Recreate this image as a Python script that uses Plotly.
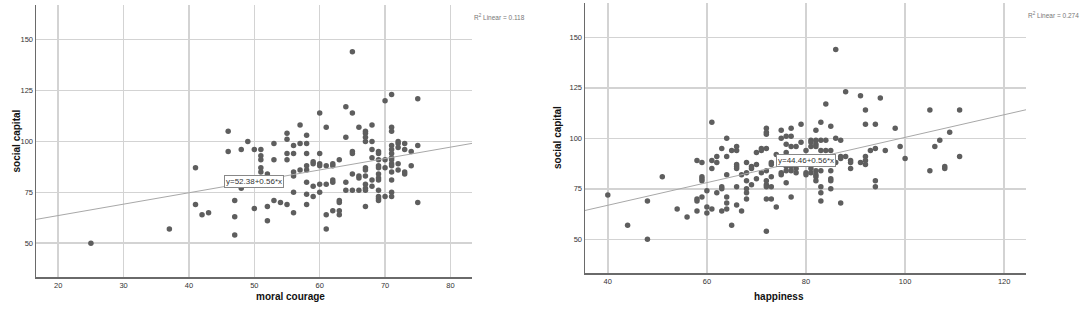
import plotly.graph_objects as go

# ---------------- data: left panel (moral courage vs social capital) ----------------
mc_x = ([25, 37, 41, 41, 42, 43, 46, 46, 47, 47, 47, 48, 48, 49, 50, 50]
        + [51] * 5 + [52] * 3 + [53] * 3 + [54] + [55] * 5 + [56] * 6 + [57] * 3
        + [58] * 8 + [59] * 4 + [60] * 6 + [61] * 5 + [62] * 5 + [63] * 5 + [64] * 4
        + [65] * 6 + [66] * 4 + [67] * 11 + [68] * 6 + [69] * 12 + [70] * 4 + [71] * 14
        + [72] * 5 + [73] * 4 + [74] * 2 + [75] * 3)
mc_y = ([50, 57, 87, 69, 64, 65, 105, 95, 71, 63, 54, 96, 77, 100, 96, 67]
        + [96, 93, 91, 87, 85]
        + [84, 68, 61]
        + [99, 91, 71]
        + [70]
        + [104, 101, 94, 91, 69]
        + [98, 94, 85, 83, 75, 65]
        + [108, 99, 86]
        + [103, 99, 94, 88, 86, 80, 74, 69]
        + [90, 89, 78, 73]
        + [114, 94, 89, 88, 79, 75]
        + [107, 88, 79, 64, 57]
        + [89, 88, 81, 80, 66]
        + [91, 71, 70, 66, 64]
        + [117, 102, 80, 76]
        + [144, 114, 95, 94, 84, 76]
        + [107, 83, 82, 76]
        + [105, 104, 102, 100, 87, 86, 83, 79, 77, 76, 68]
        + [108, 100, 96, 92, 81, 78]
        + [95, 94, 91, 88, 87, 84, 82, 81, 76, 73, 72, 71]
        + [120, 91, 87, 73]
        + [123, 107, 105, 98, 96, 94, 92, 91, 89, 88, 85, 81, 75, 73]
        + [100, 99, 97, 89, 86]
        + [99, 96, 85, 84]
        + [95, 88]
        + [121, 98, 70])
mc_fit = (52.38, 0.56)
mc_r2 = "0.118"

# ---------------- data: right panel (happiness vs social capital) ----------------
hp_groups = {
    40: [72], 44: [57], 48: [69, 50], 51: [81], 54: [65], 56: [61],
    58: [89, 70, 69, 64], 59: [88, 81, 80, 79, 71], 60: [74, 66, 63],
    61: [108, 89, 85, 65], 62: [91, 88, 73], 63: [95, 76, 75, 64],
    64: [100, 91, 82, 71, 68, 65], 65: [94, 57], 66: [96, 94, 87, 86, 85, 76, 67],
    67: [82, 64], 68: [88, 83, 79, 75, 73, 70], 69: [86, 85, 77], 70: [93, 87, 80],
    71: [95, 94, 83], 72: [105, 103, 102, 95, 84, 79, 77, 76, 70, 54],
    73: [88, 87, 81, 76, 70], 74: [92, 66], 75: [104, 100, 89, 88, 83, 82],
    76: [101, 97, 93, 86, 84, 78], 77: [105, 101, 96, 86, 84, 71], 78: [96, 87, 85, 83],
    79: [107, 98], 80: [94, 83, 82], 81: [99, 98, 96, 85, 83],
    82: [104, 99, 97, 96, 84, 82, 81, 79], 83: [108, 99, 94, 84, 76, 73, 69],
    84: [117, 99, 94], 85: [106, 94, 84, 80, 79, 75], 86: [144, 100, 88],
    87: [99, 91, 90, 68], 88: [123, 91], 89: [89, 88, 85], 91: [121, 88],
    92: [114, 107, 91, 89, 87], 93: [94], 94: [107, 95, 79, 76], 95: [120],
    96: [94], 98: [105], 99: [96], 100: [90], 105: [114, 84], 106: [96],
    107: [99], 108: [86, 85], 109: [103], 111: [114, 91],
}
hp_x = [k for k, v in hp_groups.items() for _ in v]
hp_y = [y for v in hp_groups.values() for y in v]
hp_fit = (44.46, 0.56)
hp_r2 = "0.274"

y_ticks = [50, 75, 100, 125, 150]
mc_ticks = [20, 30, 40, 50, 60, 70, 80]
hp_ticks = [40, 60, 80, 100, 120]

mc_range = [16.6, 83.3]
hp_range = [35.4, 124.4]
y_range_l = [33.4, 167.0]
y_range_r = [33.2, 166.8]

# ---------------- styling ----------------
W, H = 1084, 313
FONT = "Liberation Sans, Arial, sans-serif"
DOT = "#5e5e5e"
GRID = "#d3d3d3"
AXIS = "#6a6a6a"
FITC = "#a8a8a8"

fig = go.Figure()

fig.add_trace(go.Scatter(x=mc_x, y=mc_y, mode="markers", xaxis="x", yaxis="y",
                         marker=dict(size=5.5, color=DOT), showlegend=False))
fig.add_trace(go.Scatter(x=mc_range, y=[mc_fit[0] + mc_fit[1] * v for v in mc_range],
                         mode="lines", xaxis="x", yaxis="y",
                         line=dict(color=FITC, width=1), showlegend=False))
fig.add_trace(go.Scatter(x=hp_x, y=hp_y, mode="markers", xaxis="x2", yaxis="y2",
                         marker=dict(size=5.5, color=DOT), showlegend=False))
fig.add_trace(go.Scatter(x=hp_range, y=[hp_fit[0] + hp_fit[1] * v for v in hp_range],
                         mode="lines", xaxis="x2", yaxis="y2",
                         line=dict(color=FITC, width=1), showlegend=False))

tickfont = dict(family=FONT, size=7.5, color="#333333")

def xax(domain, rng, ticks, anchor):
    return dict(domain=domain, range=rng, tickvals=ticks, anchor=anchor,
                showgrid=True, gridcolor=GRID, gridwidth=1.5, zeroline=False,
                showline=True, linecolor=AXIS, linewidth=1.5, ticks="",
                tickfont=tickfont, fixedrange=True)

def yax(domain, rng, anchor):
    return dict(domain=domain, range=rng, tickvals=y_ticks, anchor=anchor,
                showgrid=True, gridcolor=GRID, gridwidth=1.5, zeroline=False,
                showline=True, linecolor=AXIS, linewidth=1.5, ticks="",
                tickfont=tickfont, fixedrange=True)

lx0, lx1 = 36 / W, 472 / W
rx0, rx1 = 585 / W, 1026 / W
ly0, ly1 = 1 - 277 / H, 1 - 5 / H
ry0, ry1 = 1 - 273.3 / H, 1 - 3.3 / H

fig.update_layout(
    width=W, height=H, autosize=False,
    margin=dict(l=0, r=0, t=0, b=0),
    paper_bgcolor="white", plot_bgcolor="white",
    xaxis=xax([lx0, lx1], mc_range, mc_ticks, "y"),
    yaxis=yax([ly0, ly1], y_range_l, "x"),
    xaxis2=xax([rx0, rx1], hp_range, hp_ticks, "y2"),
    yaxis2=yax([ry0, ry1], y_range_r, "x2"),
    font=dict(family=FONT),
    hovermode=False,
)

title_font = dict(family=FONT, size=10, color="#111111")
ann = [
    dict(text="<b>moral courage</b>", xref="paper", yref="paper",
         x=(lx0 + lx1) / 2, y=1 - 304 / H, showarrow=False, font=title_font),
    dict(text="<b>happiness</b>", xref="paper", yref="paper",
         x=(rx0 + rx1) / 2, y=1 - 304 / H, showarrow=False, font=title_font),
    dict(text="<b>social capital</b>", xref="paper", yref="paper",
         x=8 / W, y=1 - 141 / H, textangle=-90, showarrow=False, font=title_font),
    dict(text="<b>social capital</b>", xref="paper", yref="paper",
         x=558 / W, y=1 - 138 / H, textangle=-90, showarrow=False, font=title_font),
    dict(text="R<sup>2</sup> Linear = " + mc_r2, xref="paper", yref="paper",
         x=472 / W, y=1 - 11 / H, xanchor="left", showarrow=False,
         font=dict(family=FONT, size=6.5, color="#777777")),
    dict(text="R<sup>2</sup> Linear = " + hp_r2, xref="paper", yref="paper",
         x=1026 / W, y=1 - 9 / H, xanchor="left", showarrow=False,
         font=dict(family=FONT, size=6.5, color="#777777")),
    dict(text="y=%.2f+%.2f*x" % mc_fit, xref="x", yref="y", x=49.9, y=80.1,
         showarrow=False, bgcolor="white", bordercolor="#888888", borderwidth=1,
         borderpad=1, font=dict(family=FONT, size=8, color="#333333")),
    dict(text="y=%.2f+%.2f*x" % hp_fit, xref="x2", yref="y2", x=80.0, y=88.8,
         showarrow=False, bgcolor="white", bordercolor="#888888", borderwidth=1,
         borderpad=1, font=dict(family=FONT, size=8, color="#333333")),
]
fig.update_layout(annotations=ann)

fig.write_html(
    "out.html",
    config={"displayModeBar": False, "staticPlot": True},
    post_script="document.body.style.margin='0';document.body.style.padding='0';"
                "document.documentElement.style.overflow='hidden';",
)
